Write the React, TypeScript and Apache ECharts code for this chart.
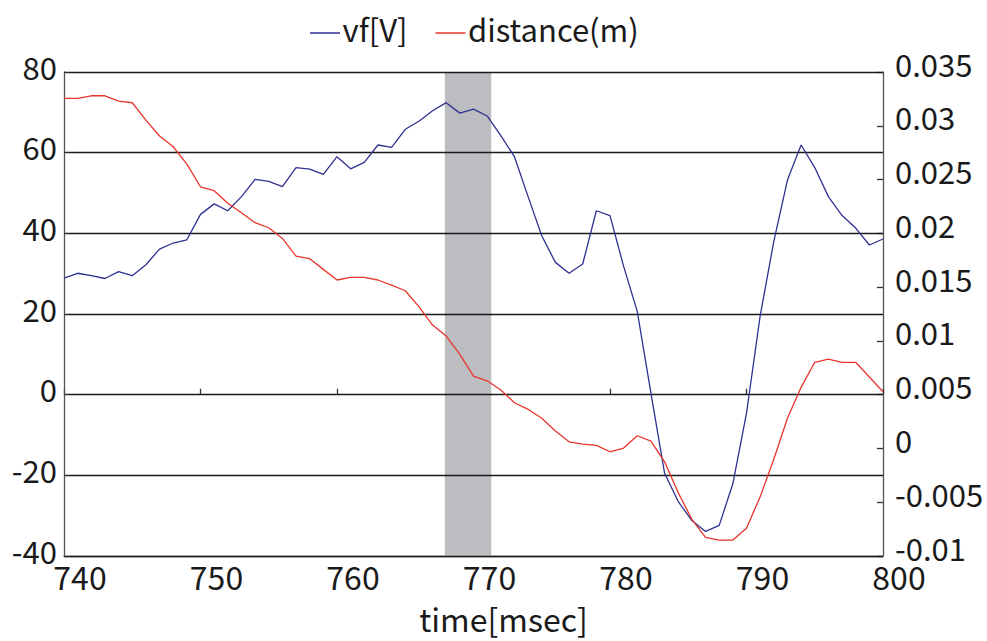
import React, { useEffect, useRef } from "react";
import * as echarts from "echarts";

const times: number[] = Array.from({ length: 61 }, (_, i) => 740 + i);

const vf: number[] = [
  28.9, 30.1, 29.5, 28.8, 30.5, 29.5, 32.2, 36.1, 37.6, 38.4,
  44.7, 47.3, 45.6, 49.1, 53.4, 52.9, 51.6, 56.3, 55.9, 54.6,
  59.0, 56.0, 57.6, 61.9, 61.3, 65.8, 67.8, 70.4, 72.4, 69.8,
  70.8, 69.1, 64.2, 59.0, 49.1, 39.4, 32.8, 30.1, 32.4, 45.6,
  44.4, 31.8, 20.6, 0.4, -19.5, -26.5, -31.2, -33.9, -32.4, -22.1,
  -4.6, 19.5, 38.0, 53.2, 61.9, 56.3, 49.1, 44.4, 41.3, 37.1,
  38.6,
];

const distance: number[] = [
  0.03255, 0.03255, 0.03279, 0.03279, 0.0323, 0.03214, 0.03053, 0.02905, 0.02805, 0.02644,
  0.02433, 0.02396, 0.02279, 0.02192, 0.02099, 0.02052, 0.01953, 0.01789, 0.01764, 0.01665,
  0.01566, 0.01591, 0.01591, 0.01566, 0.01519, 0.01466, 0.01318, 0.01147, 0.01045, 0.00875,
  0.00673, 0.00629, 0.00543, 0.00425, 0.00364, 0.0028, 0.00162, 0.00062, 0.00041, 0.00029,
  -0.00031, 0.00004, 0.00118, 0.00069, -0.00124, -0.00412, -0.00659, -0.00827, -0.00852, -0.00852,
  -0.00743, -0.00449, -0.00101, 0.0028, 0.00568, 0.00801, 0.00831, 0.00801, 0.00801, 0.00664,
  0.00527,
];

const band: [number, number] = [767.9, 771.3];

const FONT = "'Noto Sans CJK JP', 'Noto Sans', sans-serif";
const TEXT = "#1a1a1a";
const BLUE = "#2e3192";
const RED = "#e8352b";
const LEGEND_ICON = "path://M0,0L0.01,0L0.01,0.01ZM0,9L30,9L30,10.5L0,10.5Z";

export default function App() {
  const ref = useRef<HTMLDivElement>(null);
  useEffect(() => {
    if (!ref.current) return;
    const chart = echarts.init(ref.current, undefined, { renderer: "svg" });
    chart.setOption({
      animation: false,
      backgroundColor: "#ffffff",
      textStyle: { fontFamily: FONT },
      legend: {
        top: 8,
        left: 305,
        itemWidth: 31,
        itemHeight: 10.5,
        itemGap: 28,
        textStyle: { fontSize: 31, color: TEXT, fontFamily: FONT, padding: [0, 0, 0, -3] },
        data: [
          { name: "vf[V]", icon: LEGEND_ICON, itemStyle: { color: BLUE } },
          { name: "distance(m)", icon: LEGEND_ICON, itemStyle: { color: RED } },
        ],
      },
      grid: { left: 64, right: 104, top: 72, bottom: 85, containLabel: false },
      xAxis: [
        {
          type: "value",
          min: 740,
          max: 800,
          interval: 10,
          position: "bottom",
          name: "time[msec]",
          nameLocation: "middle",
          nameGap: 47,
          nameTextStyle: {
            fontSize: 32,
            lineHeight: 30,
            color: TEXT,
            fontFamily: FONT,
            padding: [0, 0, 0, 60],
          },
          axisLine: { onZero: false, show: true, lineStyle: { color: "#555", width: 1.3 } },
          axisTick: { show: false },
          axisLabel: {
            fontSize: 32,
            color: TEXT,
            fontFamily: FONT,
            margin: 4,
            padding: [0, 0, 0, 32],
          },
          splitLine: { show: false },
        },
        {
          type: "value",
          min: 740,
          max: 800,
          interval: 10,
          position: "bottom",
          axisLine: { onZero: true, onZeroAxisIndex: 0, show: false },
          axisTick: { show: true, inside: true, length: 6, lineStyle: { color: "#333", width: 1.3 } },
          axisLabel: { show: false },
          splitLine: { show: false },
        },
      ],
      yAxis: [
        {
          type: "value",
          min: -40,
          max: 80,
          interval: 20,
          z: 1.5,
          position: "left",
          axisLine: { show: true, lineStyle: { color: "#555", width: 1.3 } },
          axisTick: { show: true, inside: true, length: 5, lineStyle: { color: "#333" } },
          axisLabel: {
            fontSize: 31,
            color: TEXT,
            fontFamily: FONT,
            margin: 7,
            verticalAlign: "bottom",
            lineHeight: 12,
          },
          splitLine: { show: true, lineStyle: { color: "#1a1a1a", width: 1.3 } },
        },
        {
          type: "value",
          min: -0.01,
          max: 0.035,
          interval: 0.005,
          position: "right",
          axisLine: { show: true, lineStyle: { color: "#555", width: 1.3 } },
          axisTick: { show: true, inside: true, length: 6, lineStyle: { color: "#333", width: 1.3 } },
          axisLabel: {
            fontSize: 31,
            color: TEXT,
            fontFamily: FONT,
            margin: 12,
            verticalAlign: "bottom",
            lineHeight: 18,
            formatter: (v: number) => String(Math.round(v * 1000) / 1000),
          },
          splitLine: { show: false },
        },
      ],
      series: [
        {
          name: "vf[V]",
          type: "line",
          xAxisIndex: 0,
          yAxisIndex: 0,
          symbol: "none",
          data: times.map((t, i) => [t, vf[i]]),
          lineStyle: { color: BLUE, width: 1.3 },
          itemStyle: { color: BLUE },
          markArea: {
            silent: true,
            itemStyle: { color: "#bcbdc1", opacity: 1 },
            data: [[{ xAxis: band[0] }, { xAxis: band[1] }]],
          },
        },
        {
          name: "distance(m)",
          type: "line",
          xAxisIndex: 0,
          yAxisIndex: 1,
          symbol: "none",
          data: times.map((t, i) => [t, distance[i]]),
          lineStyle: { color: RED, width: 1.3 },
          itemStyle: { color: RED },
        },
      ],
    });
    return () => chart.dispose();
  }, []);
  return (
    <div
      ref={ref}
      style={{ position: "absolute", left: 0, top: 0, width: 987, height: 641 }}
    />
  );
}
